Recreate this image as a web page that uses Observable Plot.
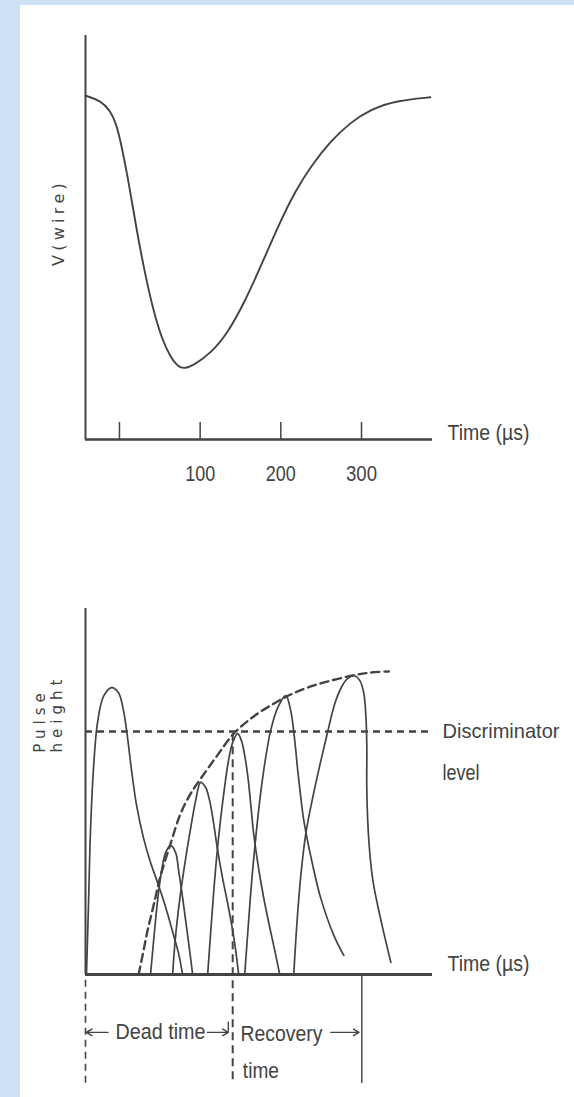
<!DOCTYPE html>
<html><head><meta charset="utf-8">
<script src="https://cdn.jsdelivr.net/npm/d3@7"></script>
<script src="https://cdn.jsdelivr.net/npm/@observablehq/plot@0.6"></script>
<style>
html,body{margin:0;padding:0;background:#fff;}
#page{position:relative;width:574px;height:1097px;background:#cde0f4;overflow:hidden;}
#paper{position:absolute;left:20px;top:5px;right:0;bottom:0;background:#fff;}
#top,#bottom{position:absolute;left:0;width:574px;}
#top{top:0}
#bottom{top:520px}
</style></head><body>
<div id="page"><div id="paper"></div><div id="top"></div><div id="bottom"></div></div>
<script>
// ---------- Top panel: wire voltage vs time ----------
const wireTime = [-42.1, -23.5, -11.2, -3.7, 2.5, 9.9, 17.3, 24.8, 33.5, 42.1, 52.0, 63.2, 75.6, 91.7, 112.8, 133.8, 156.1, 177.2, 197.0, 218.1, 237.9, 261.5, 286.3, 311.0, 343.3, 385.4];
const wireV    = [85.1, 83.9, 81.4, 78.0, 72.8, 65.3, 56.7, 48.0, 39.4, 31.9, 25.2, 20.3, 17.1, 18.3, 21.3, 26.2, 34.4, 43.8, 53.0, 61.6, 67.8, 73.8, 78.5, 81.7, 83.9, 84.7];
const topTicks = [0, 100, 200, 300];
const topTickLabels = [100, 200, 300];

// ---------- Bottom panel: pulses after a discharge ----------
const p1t = [1.2, 3.7, 6.2, 9.9, 14.9, 22.3, 32.3, 40.9, 47.1, 52.1, 57.1, 63.3, 72.0, 80.6, 90.6, 100.5, 109.2, 115.4, 120.3];
const p1h = [0, 18.9, 39.3, 56.3, 68.8, 76.0, 78.4, 77.0, 72.1, 64.7, 55.7, 46.2, 37.2, 30.6, 24.3, 17.5, 10.7, 5.7, 0];
const p2t = [80.6, 85.6, 89.3, 94.3, 99.3, 105.5, 111.7, 115.4, 119.1, 124.1, 129.0, 132.8];
const p2h = [0, 12.0, 20.2, 28.4, 33.3, 35.2, 33.3, 28.4, 23.0, 14.8, 6.6, 0];
const p3t = [107.9, 111.7, 116.6, 121.6, 126.6, 131.5, 136.5, 142.7, 148.9, 153.8, 158.8, 163.8, 170.0, 176.2, 182.4, 186.1, 189.8];
const p3h = [0, 10.7, 20.2, 28.1, 35.2, 41.5, 47.5, 52.5, 51.1, 47.5, 41.3, 33.9, 26.2, 19.4, 12.0, 6.6, 0];
const p4t = [151.4, 155.1, 158.8, 162.5, 167.5, 172.5, 177.4, 182.4, 188.6, 193.5, 197.3, 201.0, 204.7, 208.4, 213.4, 219.6, 227.0, 234.5, 240.7];
const p4h = [0, 11.5, 22.4, 32.0, 42.6, 51.4, 58.7, 63.4, 65.8, 63.7, 59.8, 54.4, 46.7, 38.5, 30.6, 22.4, 14.2, 6.6, 0];
const p5t = [197.3, 202.2, 206.0, 211.0, 215.9, 220.8, 225.8, 229.5, 238.2, 248.1, 254.3, 259.3, 263.0, 266.8, 270.5, 281.6, 291.6, 307.7, 320.1];
const p5h = [0, 14.8, 25.7, 37.4, 47.5, 55.7, 62.6, 66.7, 72.9, 76.2, 72.1, 63.9, 55.7, 48.4, 42.1, 29.8, 20.8, 10.7, 5.2];
const p6t = [258.1, 261.8, 266.8, 273.0, 281.6, 290.3, 300.2, 308.9, 317.6, 325.0, 332.5, 340.0, 344.9, 347.4, 348.6, 348.6, 351.1, 356.1, 364.8, 378.4];
const p6h = [0, 13.4, 27.0, 38.5, 48.4, 57.1, 66.4, 74.0, 78.7, 80.9, 81.7, 80.3, 76.8, 70.8, 62.6, 50.3, 36.6, 25.7, 16.1, 3.3];
const envT = [65.8, 70.7, 76.9, 84.4, 93.1, 105.5, 117.9, 130.3, 142.7, 162.5, 183.6, 208.4, 233.2, 254.3, 279.2, 304.0, 331.3, 353.6, 375.9];
const envH = [0, 5.2, 12.0, 18.9, 27.0, 35.8, 44.0, 49.4, 53.5, 59.6, 65.8, 70.5, 74.0, 76.5, 78.7, 80.3, 81.7, 82.5, 82.8];
const discriminatorLevel = 66.4;
const deadTimeEnd = 182.4;      // pulse that first reaches the discriminator level
const recoveryEnd = 342.4;      // full recovery
const markerBottom = -29.8;     // lower end of the time markers below the axis
const arrowRow = -15.8;
const arrowFrom = [28, 151, 304];
const arrowTo = [1, 177, 339];

const ink = "#434343";
const sans = '"Liberation Sans", Arial, sans-serif';
const wide = '"DejaVu Sans", sans-serif';
const spacing = {"V(wire)": 4.3, "Pulse": 5, "height": 5};
const fitWidth = {"Time (µs)": 82, "100": 30, "200": 30, "300": 31, "Discriminator": 117, "level": 37, "Dead time": 90, "Recovery": 82, "time": 36};

function finish(svg) {
  svg.querySelectorAll("text").forEach(t => {
    const s = t.textContent;
    if (s in spacing) t.setAttribute("letter-spacing", spacing[s]);
    if (s in fitWidth) {
      t.setAttribute("textLength", fitWidth[s]);
      t.setAttribute("lengthAdjust", "spacingAndGlyphs");
    }
  });
  return svg;
}

const wireRows = wireTime.map((t, i) => ({t, v: wireV[i]}));
const xTopMin = -42.1, xTopMax = 388;

const topPlot = Plot.plot({
  width: 574, height: 520,
  marginLeft: 85, marginRight: 142, marginTop: 35, marginBottom: 81,
  x: {domain: [xTopMin, xTopMax], axis: null},
  y: {domain: [0, 100], axis: null},
  style: {background: "transparent", overflow: "visible"},
  marks: [
    Plot.ruleX([xTopMin], {y1: 0, y2: 100, stroke: ink, strokeWidth: 2}),
    Plot.ruleY([0], {stroke: ink, strokeWidth: 2.6}),
    Plot.ruleX(topTicks, {x: d => d, y1: 0, y2: 4.2, stroke: ink, strokeWidth: 1.5}),
    Plot.text(topTickLabels, {x: d => d, y: 0, dy: 34, text: d => String(d), fontSize: 22, fontFamily: sans, fill: ink}),
    Plot.line(wireRows, {x: "t", y: "v", curve: "basis", stroke: ink, strokeWidth: 1.9}),
    Plot.text(["Time (µs)"], {frameAnchor: "bottom-right", dx: 15, dy: -7, textAnchor: "start", lineAnchor: "middle", fontSize: 22, fontFamily: sans, fill: ink}),
    Plot.text(["V(wire)"], {frameAnchor: "left", rotate: -90, dx: -27, dy: -15, textAnchor: "middle", lineAnchor: "middle", fontSize: 16, fontFamily: wide, fill: ink})
  ]
});
document.getElementById("top").appendChild(finish(topPlot));

const pulses = [[p1t, p1h], [p2t, p2h], [p3t, p3h], [p4t, p4h], [p5t, p5h], [p6t, p6h]];
const pulseRows = pulses.flatMap(([ts, hs], k) => ts.map((t, i) => ({id: k, t, h: hs[i]})));
const envRows = envT.map((t, i) => ({t, h: envH[i]}));
const xBotMax = 430;

const bottomPlot = Plot.plot({
  width: 574, height: 577,
  marginLeft: 85, marginRight: 142, marginTop: 88, marginBottom: 123,
  x: {domain: [0, xBotMax], axis: null},
  y: {domain: [0, 100], axis: null},
  style: {background: "transparent", overflow: "visible"},
  marks: [
    Plot.ruleX([0], {y1: 0, y2: 100, stroke: ink, strokeWidth: 2}),
    Plot.ruleY([0], {stroke: ink, strokeWidth: 2.8}),
    Plot.ruleY([discriminatorLevel], {stroke: ink, strokeWidth: 2.4, strokeDasharray: "7,5"}),
    Plot.line(envRows, {x: "t", y: "h", curve: "catmull-rom", stroke: ink, strokeWidth: 2.4, strokeDasharray: "8,5"}),
    Plot.line(pulseRows, {x: "t", y: "h", z: "id", curve: "catmull-rom", stroke: ink, strokeWidth: 1.7}),
    Plot.ruleX([0], {y1: -1.6, y2: markerBottom, stroke: ink, strokeWidth: 1.6, strokeDasharray: "7,5"}),
    Plot.ruleX([deadTimeEnd], {y1: 65.8, y2: markerBottom, stroke: ink, strokeWidth: 2, strokeDasharray: "8,5"}),
    Plot.ruleX([recoveryEnd], {y1: 0, y2: markerBottom, stroke: ink, strokeWidth: 1.4}),
    Plot.arrow(arrowFrom, {x1: d => d, x2: (d, i) => arrowTo[i], y1: arrowRow, y2: arrowRow, headLength: 7, stroke: ink, strokeWidth: 1.4}),
    Plot.ruleX([arrowTo[1]], {y1: arrowRow, y2: arrowRow + 2.8, stroke: ink, strokeWidth: 1.4}),
    Plot.text(["Dead time"], {x: 93, y: arrowRow, fontSize: 22, fontFamily: sans, fill: ink}),
    Plot.text(["Recovery"], {x: 192, y: arrowRow, dy: 2, textAnchor: "start", fontSize: 22, fontFamily: sans, fill: ink}),
    Plot.text(["time"], {x: 195, y: arrowRow, dy: 39, textAnchor: "start", fontSize: 22, fontFamily: sans, fill: ink}),
    Plot.text(["Time (µs)"], {frameAnchor: "bottom-right", dx: 15, dy: -11, textAnchor: "start", lineAnchor: "middle", fontSize: 22, fontFamily: sans, fill: ink}),
    Plot.text(["Discriminator"], {x: xBotMax, y: discriminatorLevel, dx: 10, textAnchor: "start", fontSize: 21, fontFamily: sans, fill: ink}),
    Plot.text(["level"], {x: xBotMax, y: discriminatorLevel, dx: 10, dy: 41, textAnchor: "start", fontSize: 22, fontFamily: sans, fill: ink}),
    Plot.text(["Pulse"], {frameAnchor: "left", rotate: -90, dx: -45, dy: -71, textAnchor: "middle", lineAnchor: "middle", fontSize: 15, fontFamily: wide, fill: ink}),
    Plot.text(["height"], {frameAnchor: "left", rotate: -90, dx: -28, dy: -78, textAnchor: "middle", lineAnchor: "middle", fontSize: 15, fontFamily: wide, fill: ink})
  ]
});
document.getElementById("bottom").appendChild(finish(bottomPlot));
</script>
</body></html>
